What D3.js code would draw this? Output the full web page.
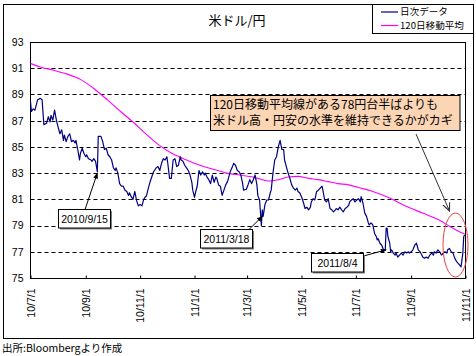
<!DOCTYPE html>
<html><head><meta charset="utf-8">
<script src="https://cdn.jsdelivr.net/npm/d3@7"></script>
<style>
html,body{margin:0;padding:0;background:#fff;}
svg{display:block;}
</style></head>
<body>
<script>
// ---------- DATA ----------
const chartTitle = "米ドル/円";
const seriesNames = ["日次データ", "120日移動平均"];
const sourceNote = "出所:Bloombergより作成";
const noteLines = ["120日移動平均線がある78円台半ばよりも", "米ドル高・円安の水準を維持できるかがカギ"];

const yTicks = [75, 77, 79, 81, 83, 85, 87, 89, 91, 93];
const gridTicks = [77, 79, 81, 83, 85, 87, 89, 91];
const xTickDates = ["2010-07-01","2010-09-01","2010-11-01","2011-01-01","2011-03-01","2011-05-01","2011-07-01","2011-09-01","2011-11-01"];
const xTickLabels = ["10/7/1","10/9/1","10/11/1","11/1/1","11/3/1","11/5/1","11/7/1","11/9/1","11/11/1"];

const dailyDates = [
"2010-07-01","2010-07-02","2010-07-04","2010-07-06","2010-07-09","2010-07-12","2010-07-14","2010-07-16","2010-07-19","2010-07-21","2010-07-23","2010-07-24","2010-07-26","2010-07-28","2010-07-30",
"2010-08-01","2010-08-03","2010-08-05","2010-08-07","2010-08-08","2010-08-10","2010-08-12","2010-08-14","2010-08-16","2010-08-18","2010-08-20","2010-08-21","2010-08-23","2010-08-25","2010-08-26","2010-08-28","2010-08-30",
"2010-09-01","2010-09-02","2010-09-04","2010-09-07","2010-09-08","2010-09-10","2010-09-12","2010-09-14","2010-09-15","2010-09-18","2010-09-20","2010-09-22","2010-09-24","2010-09-26","2010-09-28","2010-09-30",
"2010-10-02","2010-10-04","2010-10-05","2010-10-07","2010-10-09","2010-10-11","2010-10-13","2010-10-15","2010-10-17","2010-10-19","2010-10-20","2010-10-22","2010-10-24","2010-10-26","2010-10-28","2010-10-30",
"2010-11-01","2010-11-03","2010-11-05","2010-11-07","2010-11-08","2010-11-10","2010-11-12","2010-11-14","2010-11-16","2010-11-17","2010-11-19","2010-11-21","2010-11-23","2010-11-25","2010-11-27","2010-11-29",
"2010-12-01","2010-12-02","2010-12-04","2010-12-06","2010-12-08","2010-12-10","2010-12-12","2010-12-14","2010-12-16","2010-12-17","2010-12-19","2010-12-21","2010-12-23","2010-12-25","2010-12-27","2010-12-29","2010-12-30",
"2011-01-01","2011-01-02","2011-01-04","2011-01-06","2011-01-08","2011-01-10","2011-01-12","2011-01-13","2011-01-15","2011-01-17","2011-01-19","2011-01-21","2011-01-23","2011-01-25","2011-01-26","2011-01-28","2011-01-30",
"2011-02-01","2011-02-03","2011-02-05","2011-02-07","2011-02-09","2011-02-10","2011-02-12","2011-02-14","2011-02-16","2011-02-18","2011-02-20","2011-02-22","2011-02-24","2011-02-25","2011-02-27","2011-02-28",
"2011-03-02","2011-03-04","2011-03-06","2011-03-08","2011-03-10","2011-03-12","2011-03-13","2011-03-15","2011-03-17","2011-03-18","2011-03-19","2011-03-21","2011-03-23","2011-03-25","2011-03-27","2011-03-28","2011-03-30",
"2011-04-01","2011-04-03","2011-04-05","2011-04-07","2011-04-09","2011-04-11","2011-04-12","2011-04-14","2011-04-16","2011-04-18","2011-04-20","2011-04-22","2011-04-24","2011-04-26","2011-04-27","2011-04-29",
"2011-05-01","2011-05-03","2011-05-05","2011-05-07","2011-05-09","2011-05-11","2011-05-12","2011-05-14","2011-05-16","2011-05-18","2011-05-20","2011-05-22","2011-05-24","2011-05-25","2011-05-27","2011-05-29","2011-05-31",
"2011-06-02","2011-06-04","2011-06-06","2011-06-08","2011-06-09","2011-06-11","2011-06-13","2011-06-15","2011-06-17","2011-06-19","2011-06-21","2011-06-23","2011-06-24","2011-06-26","2011-06-28","2011-06-30",
"2011-07-02","2011-07-04","2011-07-06","2011-07-07","2011-07-09","2011-07-11","2011-07-13","2011-07-15","2011-07-16","2011-07-18","2011-07-20","2011-07-22","2011-07-24","2011-07-25","2011-07-26","2011-07-28","2011-07-30",
"2011-08-01","2011-08-03","2011-08-04","2011-08-05","2011-08-06","2011-08-08","2011-08-09","2011-08-10","2011-08-12","2011-08-14","2011-08-15","2011-08-17","2011-08-19","2011-08-21","2011-08-23","2011-08-25","2011-08-27","2011-08-29","2011-08-30",
"2011-09-01","2011-09-03","2011-09-05","2011-09-07","2011-09-09","2011-09-11","2011-09-13","2011-09-14","2011-09-16","2011-09-18","2011-09-20","2011-09-22","2011-09-24","2011-09-26","2011-09-27","2011-09-29",
"2011-10-01","2011-10-03","2011-10-05","2011-10-07","2011-10-09","2011-10-11","2011-10-12","2011-10-14","2011-10-16","2011-10-18","2011-10-20","2011-10-22","2011-10-24","2011-10-26","2011-10-27","2011-10-29","2011-10-30","2011-10-31"
];
const dailyValues = [
88.45,87.7,87.9,87.8,88.6,88.7,88.6,86.7,86.8,87.3,86.9,87.4,87.05,87.8,87.05,
86.5,86.0,86.3,85.5,85.9,85.4,85.8,86.0,85.4,85.5,85.3,85.5,84.8,84.0,84.5,84.9,84.5,
84.25,84.4,84.1,84.0,83.9,84.1,83.9,83.1,85.8,85.8,85.4,84.8,84.9,84.4,84.25,84.0,
83.4,83.2,83.4,83.0,82.2,82.0,82.0,81.7,81.6,81.3,81.5,81.2,81.0,81.6,80.9,80.5,
80.6,80.5,81.0,81.2,81.25,81.8,82.3,82.7,83.1,83.2,83.4,83.5,83.2,83.75,84.1,84.0,
84.25,83.75,82.6,82.6,84.0,84.1,83.5,83.6,84.25,84.0,83.9,83.6,83.4,83.2,82.85,82.3,81.7,
81.15,81.5,82.0,83.2,82.85,83.1,82.85,83.0,82.7,82.5,82.2,82.85,82.3,82.7,82.6,82.1,82.0,
81.3,81.7,82.1,82.35,82.85,83.1,83.4,83.75,83.6,83.2,83.1,82.85,82.2,81.7,81.75,81.75,
82.1,82.5,82.2,82.5,82.85,82.1,81.3,80.95,79.0,80.2,79.7,80.6,80.95,80.95,81.5,81.7,83.0,
84.0,84.25,85.0,85.5,84.8,84.8,84.0,83.5,83.0,82.6,82.1,81.85,81.7,81.85,81.6,81.5,
81.2,80.8,80.3,80.4,80.2,80.4,80.8,81.05,80.95,81.6,81.7,81.85,82.0,81.7,80.95,80.8,81.05,
80.3,80.2,80.05,80.2,80.3,80.2,80.4,80.2,80.05,80.3,80.4,80.55,80.8,80.95,81.05,80.8,
80.95,81.05,80.8,81.2,80.7,79.95,79.7,79.2,79.05,79.2,79.05,78.4,78.15,77.9,78.0,77.65,77.5,
77.15,77.15,78.8,78.8,78.15,77.65,77.0,77.15,76.9,76.75,76.9,76.6,76.75,76.9,76.75,77.0,76.9,77.0,76.9,
77.0,77.15,77.5,77.65,77.15,77.0,76.75,76.6,76.5,76.6,76.5,76.75,76.9,76.75,77.0,76.9,
77.15,77.0,76.75,76.9,77.0,76.9,77.15,77.25,77.0,76.9,76.5,76.25,76.1,75.95,75.85,76.9,78.15,78.3
];

const maDates = [
"2010-07-01","2010-07-12","2010-07-27","2010-08-11","2010-08-26","2010-09-10","2010-09-25","2010-10-10","2010-10-24","2010-11-09",
"2010-11-23","2010-12-08","2010-12-23","2011-01-07","2011-01-22","2011-02-06","2011-02-21","2011-03-08","2011-03-25","2011-04-05",
"2011-04-16","2011-04-27","2011-05-09","2011-05-20","2011-05-31","2011-06-11","2011-06-23","2011-07-04","2011-07-20","2011-08-08",
"2011-08-27","2011-09-14","2011-10-03","2011-10-14","2011-10-22","2011-10-31"
];
const maValues = [
91.37,91.1,90.85,90.55,90.15,89.45,88.6,87.7,86.9,85.9,
85.1,84.45,84.0,83.6,83.3,83.0,82.85,82.7,82.4,82.5,
82.7,82.75,82.6,82.5,82.35,82.2,82.1,81.9,81.6,81.1,
80.45,79.95,79.4,78.95,78.65,78.35
];

const calloutLabels = ["2010/9/15", "2011/3/18", "2011/8/4"];
const calloutDates = ["2010-09-14", "2011-03-18", "2011-08-04"];
const calloutValues = [83.0, 79.7, 77.15];

// ---------- DRAW ----------
const W = 476, H = 356;
const parse = d3.timeParse("%Y-%m-%d");
const LATIN = "'Liberation Sans', Arial, 'Noto Sans CJK JP', sans-serif";
const CJK = "'Noto Sans CJK JP', 'Liberation Sans', sans-serif";

const svg = d3.select("body").append("svg").attr("width", W).attr("height", H);

const plot = {l: 30.5, r: 465.5, t: 42, b: 278};
const x = d3.scaleTime().domain([parse("2010-07-01"), parse("2011-11-01")]).range([plot.l, plot.r]);
const y = d3.scaleLinear().domain([75, 93]).range([plot.b, plot.t]);

// outer frame
svg.append("rect").attr("x", 3.5).attr("y", 4.5).attr("width", 470).attr("height", 334)
  .attr("fill", "#fff").attr("stroke", "#000").attr("stroke-width", 1);

// title
svg.append("text").attr("x", 237).attr("y", 25).attr("text-anchor", "middle")
  .style("font-family", CJK).style("font-size", "13px").text(chartTitle);

// gridlines
svg.append("g").selectAll("line").data(gridTicks).join("line")
  .attr("x1", plot.l).attr("x2", plot.r)
  .attr("y1", d => Math.round(y(d)) + 0.5).attr("y2", d => Math.round(y(d)) + 0.5)
  .attr("stroke", "#000").attr("stroke-width", 1).attr("stroke-dasharray", "4,3");

// plot border
svg.append("rect").attr("x", plot.l).attr("y", plot.t + 0.5)
  .attr("width", plot.r - plot.l).attr("height", plot.b - plot.t)
  .attr("fill", "none").attr("stroke", "#000").attr("stroke-width", 1);

// y axis
const yAxis = svg.append("g").attr("transform", `translate(${plot.l},0)`)
  .call(d3.axisLeft(y).tickValues(yTicks).tickSize(0).tickPadding(7).tickFormat(d3.format("d")));
yAxis.select(".domain").remove();
yAxis.selectAll("text").style("font-family", LATIN).style("font-size", "10.5px").attr("fill", "#000");

// x axis
const xAxis = svg.append("g").attr("transform", `translate(0,${plot.b + 0.5})`)
  .call(d3.axisBottom(x).tickValues(xTickDates.map(parse)).tickSize(-3)
    .tickFormat((d, i) => xTickLabels[i]));
xAxis.select(".domain").remove();
xAxis.selectAll(".tick line").attr("stroke", "#000");
xAxis.selectAll("text")
  .attr("transform", "rotate(-90)").attr("x", -10).attr("y", 0).attr("dy", "0.35em")
  .style("text-anchor", "end").style("font-family", LATIN).style("font-size", "10.5px").attr("fill", "#000");

// lines
const daily = dailyDates.map((d, i) => ({date: parse(d), v: dailyValues[i]}));
const ma = maDates.map((d, i) => ({date: parse(d), v: maValues[i]}));

svg.append("path").datum(ma)
  .attr("d", d3.line().x(d => x(d.date)).y(d => y(d.v)).curve(d3.curveMonotoneX))
  .attr("fill", "none").attr("stroke", "#FF00FF").attr("stroke-width", 1.1);

svg.append("path").datum(daily)
  .attr("d", d3.line().x(d => x(d.date)).y(d => y(d.v)))
  .attr("fill", "none").attr("stroke", "#000080").attr("stroke-width", 1.2).attr("stroke-linejoin", "round");

// markers
const defs = svg.append("defs");
defs.append("marker").attr("id", "tri").attr("viewBox", "0 0 10 10").attr("refX", 9).attr("refY", 5)
  .attr("markerWidth", 6).attr("markerHeight", 6).attr("orient", "auto")
  .append("path").attr("d", "M0,1 L10,5 L0,9 Z").attr("fill", "#000");
defs.append("marker").attr("id", "vee").attr("viewBox", "0 0 10 10").attr("refX", 9).attr("refY", 5)
  .attr("markerWidth", 9).attr("markerHeight", 9).attr("orient", "auto").attr("markerUnits", "userSpaceOnUse")
  .append("path").attr("d", "M0,1 L9,5 L0,9").attr("fill", "none").attr("stroke", "#333").attr("stroke-width", 1.2);

// callouts
const boxes = [
  {x: 58.5, y: 209.5, w: 52, h: 18.5, ax: 85, ay: 209.5},
  {x: 200.5, y: 229.5, w: 52, h: 18.5, ax: 249, ay: 229.5},
  {x: 311.5, y: 253.5, w: 52, h: 18.5, ax: 363.5, ay: 256}
];
calloutLabels.forEach((lab, i) => {
  const b = boxes[i];
  const tx = x(parse(calloutDates[i])), ty = y(calloutValues[i]);
  svg.append("line").attr("x1", b.ax).attr("y1", b.ay).attr("x2", tx).attr("y2", ty)
    .attr("stroke", "#000").attr("stroke-width", 1).attr("marker-end", "url(#tri)");
  svg.append("rect").attr("x", b.x + 1.5).attr("y", b.y + 1.5).attr("width", b.w).attr("height", b.h).attr("fill", "#808080");
  svg.append("rect").attr("x", b.x).attr("y", b.y).attr("width", b.w).attr("height", b.h)
    .attr("fill", "#fff").attr("stroke", "#000").attr("stroke-width", 1);
  svg.append("text").attr("x", b.x + b.w / 2).attr("y", b.y + b.h / 2 + 4)
    .attr("text-anchor", "middle").style("font-family", LATIN).style("font-size", "10.5px").text(lab);
});

// note box
svg.append("rect").attr("x", 210.5).attr("y", 95.5).attr("width", 249.5).attr("height", 35)
  .attr("fill", "#FCD5B4").attr("stroke", "#000").attr("stroke-width", 1);
noteLines.forEach((t, i) => {
  svg.append("text").attr("x", 213).attr("y", 108.5 + i * 16.3)
    .style("font-family", CJK).style("font-size", "12px").text(t);
});

// big arrow + ellipse
svg.append("line").attr("x1", 416).attr("y1", 134).attr("x2", 449.5).attr("y2", 211)
  .attr("stroke", "#333").attr("stroke-width", 1).attr("marker-end", "url(#vee)");
svg.append("ellipse").attr("cx", 455.5).attr("cy", 245).attr("rx", 12.5).attr("ry", 32)
  .attr("fill", "none").attr("stroke", "#F04040").attr("stroke-width", 1);

// legend
svg.append("rect").attr("x", 372.5).attr("y", 4.5).attr("width", 101).attr("height", 29)
  .attr("fill", "#fff").attr("stroke", "#000").attr("stroke-width", 1);
const legColors = ["#000080", "#FF00FF"];
const legLineY = [12, 25.5];
seriesNames.forEach((n, i) => {
  const ly = legLineY[i];
  svg.append("line").attr("x1", 381).attr("x2", 398).attr("y1", ly).attr("y2", ly)
    .attr("stroke", legColors[i]).attr("stroke-width", 1.2);
  svg.append("text").attr("x", 400).attr("y", ly + 3.4)
    .style("font-family", CJK).style("font-size", "9.6px").text(n);
});

// source
svg.append("text").attr("x", 2).attr("y", 352)
  .style("font-family", CJK).style("font-size", "10.5px").text(sourceNote);
</script>
</body></html>
